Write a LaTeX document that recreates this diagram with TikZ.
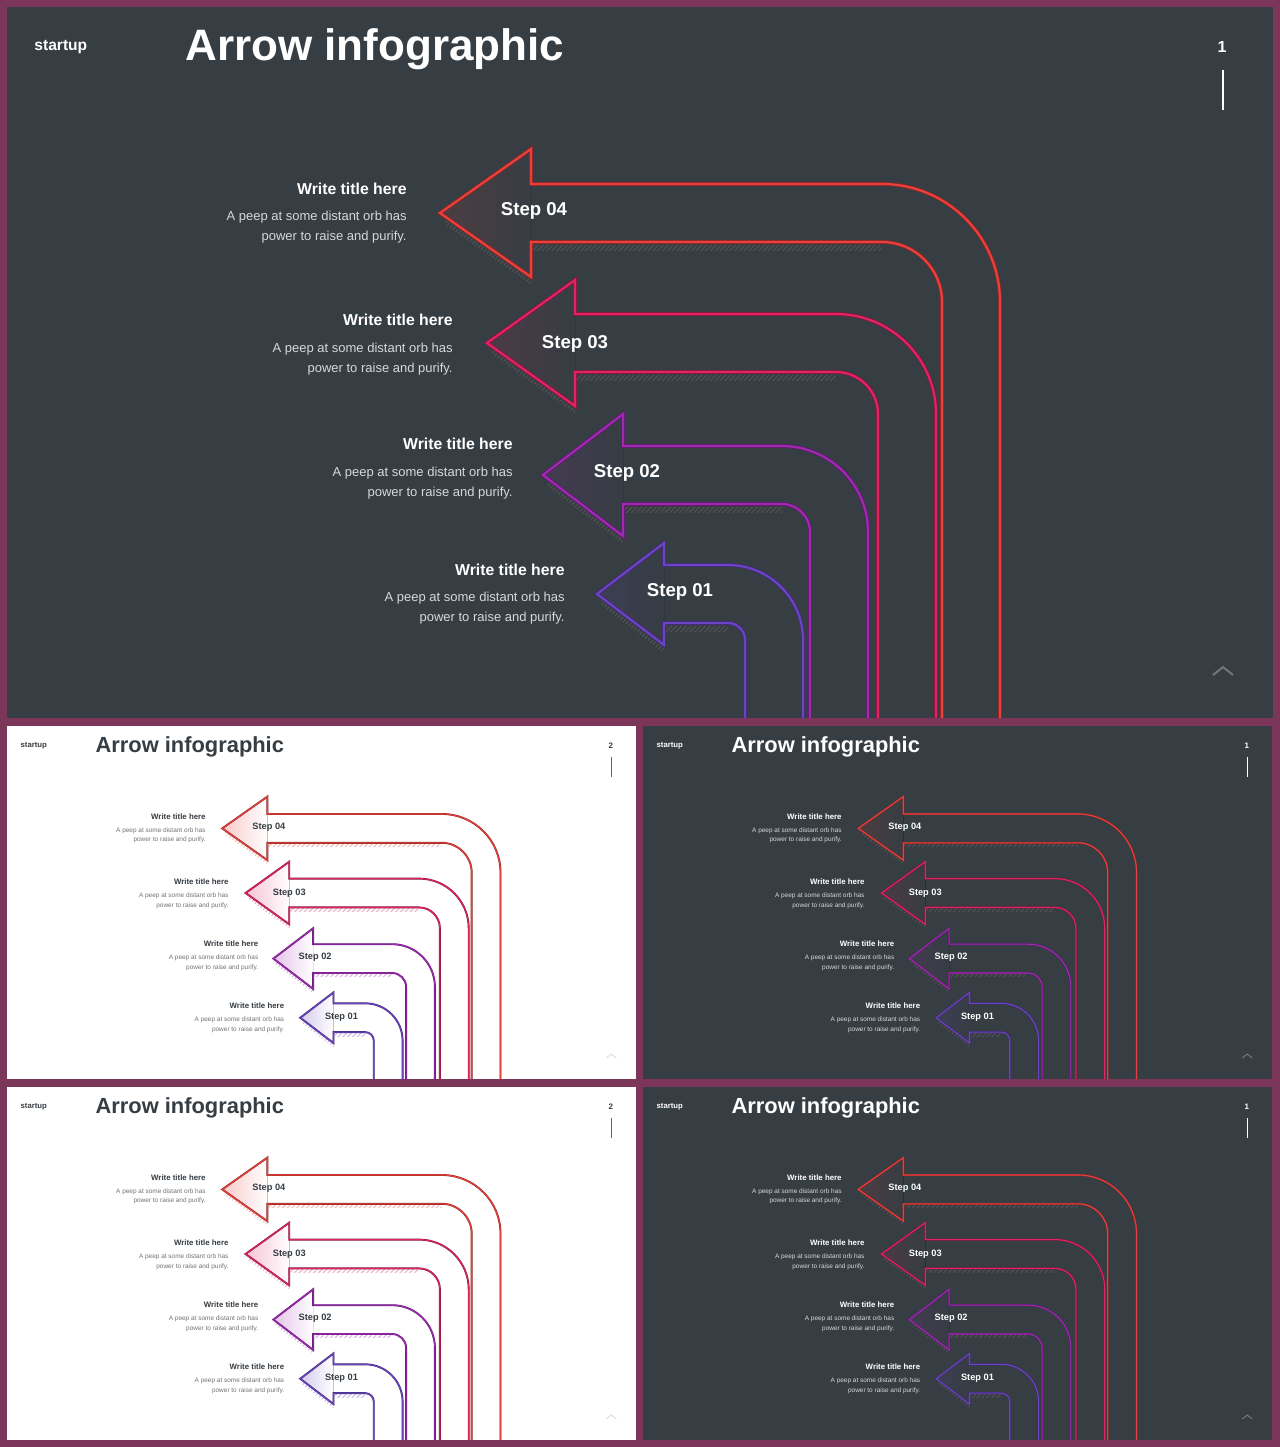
\documentclass[tikz,border=0pt]{standalone}
\usepackage{fontspec}
\setmainfont{Liberation Sans}
\usetikzlibrary{patterns.meta}
\definecolor{framecol}{HTML}{7B365A}
\definecolor{darkbg}{HTML}{363D43}
\definecolor{cfour}{HTML}{E8403C}
\definecolor{cthree}{HTML}{DE2462}
\definecolor{ctwo}{HTML}{9E2AB2}
\definecolor{cone}{HTML}{6A44C2}
\newif\ifdarkslide
\newcommand{\darktheme}{\darkslidetrue\colorlet{sbg}{darkbg}\colorlet{stitle}{white}\colorlet{sbody}{white!80!darkbg}\colorlet{sline}{white}\colorlet{schev}{white!30!darkbg}\def\tintamt{13}\def\pagenum{1}}
\newcommand{\lighttheme}{\darkslidefalse\colorlet{sbg}{white}\colorlet{stitle}{darkbg}\colorlet{sbody}{black!55}\colorlet{sline}{black!60}\colorlet{schev}{black!12}\def\tintamt{28}\def\pagenum{2}}
\tikzset{
  wtitle/.style={inner sep=0pt, font=\bfseries\fontsize{7.9}{9}\selectfont, text=stitle},
  wbody/.style={inner sep=0pt, align=right, font=\fontsize{6.5}{10}\selectfont, text=sbody},
  wstep/.style={inner sep=0pt, font=\bfseries\fontsize{9.3}{11}\selectfont, text=stitle},
  hatchband/.style={pattern={Lines[angle=45,distance=1.7pt,line width=0.55pt]}, pattern color=hcol}
}
% #1 color, #2 tx, #3 bx, #4 half head height, #5 cx, #6 cy, #7 R, #8 r
\newcommand{\steparrow}[8]{%
  \pgfmathsetmacro\aUY{#6-#7}%
  \pgfmathsetmacro\aLY{#6-#8}%
  \pgfmathsetmacro\aTY{#6-(#7+#8)/2}%
  \pgfmathsetmacro\aHT{\aTY-#4}%
  \pgfmathsetmacro\aHB{\aTY+#4}%
  \pgfmathsetmacro\aXO{#5+#7}%
  \pgfmathsetmacro\aXI{#5+#8}%
  \pgfmathsetmacro\aKO{#7*0.5523}%
  \pgfmathsetmacro\aKI{#8*0.5523}%
  \pgfmathsetmacro\aAX{#2+0.06*(#3-#2)}%
  \pgfmathsetmacro\aAY{\aTY+0.06*#4}%
  \ifdarkslide\colorlet{hcol}{black!68}\else\colorlet{hcol}{#1!35!white}\fi
  \fill[left color=#1!\tintamt!sbg, right color=sbg] (#2,\aTY) -- (#3,\aHT) -- (#3,\aHB) -- cycle;
  \fill[hatchband] ({#3+2},{\aLY+3}) -- (#5,{\aLY+3}) -- (#5,{\aLY+8}) -- ({#3+2},{\aLY+8}) -- cycle;
  \fill[hatchband] (\aAX,{\aAY+3}) -- (#3,{\aHB+3}) -- (#3,{\aHB+8}) -- (\aAX,{\aAY+8}) -- cycle;
  \draw[preaction={draw=#1!60!black, line width=\lwo pt}, draw=#1, line width=\lwi pt, line join=miter]
    (\aXO,711) -- (\aXO,#6) .. controls (\aXO,{#6-\aKO}) and ({#5+\aKO},\aUY) .. (#5,\aUY)
    -- (#3,\aUY) -- (#3,\aHT) -- (#2,\aTY) -- (#3,\aHB) -- (#3,\aLY) -- (#5,\aLY)
    .. controls ({#5+\aKI},\aLY) and (\aXI,{#6-\aKI}) .. (\aXI,#6) -- (\aXI,711);
}
% #1 prefix, #2 id, #3 right x, #4 title y, #5 body y, #6 label, #7 label x, #8 label y
\newcommand{\steptexts}[8]{%
  \node[wtitle, anchor=east] (#1-t#2) at (#3,#4) {Write title here};
  \node[wbody, anchor=east] (#1-b#2) at (#3,#5) {A peep at some distant orb has\\power to raise and purify.};
  \node[wstep] (#1-s#2) at (#7,#8) {#6};
}
% #1 prefix, #2 x, #3 y, #4 scale
\newcommand{\myslide}[4]{%
  \begin{scope}[shift={(#2,#3)}, scale=#4, transform shape]
    \pgfmathsetmacro\lwo{1.9*#4}%
    \pgfmathsetmacro\lwi{1.1*#4}%
    \pgfmathsetmacro\lwp{1.0*#4}%
    \fill[sbg] (0,0) rectangle (1266,711);
    \begin{scope}
      \clip (0,0) rectangle (1266,711);
      \steparrow{cfour}{433}{524}{64}{875}{295}{118}{60}
      \steparrow{cthree}{480}{568}{63}{829}{407}{100}{42}
      \steparrow{ctwo}{536}{616}{61}{775}{525}{86}{28}
      \steparrow{cone}{590}{657}{51}{721}{633}{75}{17}
    \end{scope}
    \node[anchor=west, inner sep=0pt, font=\bfseries\fontsize{7.8}{9}\selectfont, text=stitle] (#1-brand) at (27,40) {startup};
    \node[anchor=west, inner sep=0pt, font=\bfseries\fontsize{22}{26}\selectfont, text=stitle] (#1-title) at (178,42) {Arrow infographic};
    \node[inner sep=0pt, font=\bfseries\fontsize{8}{9}\selectfont, text=stitle] (#1-page) at (1215,40) {\pagenum};
    \coordinate (#1-pa) at (1216,63);
    \coordinate (#1-pb) at (1216,103);
    \draw[sline, line width=\lwp pt] (#1-pa) -- (#1-pb);
    \coordinate (#1-c1) at (1206,668);
    \coordinate (#1-c2) at (1216,660);
    \coordinate (#1-c3) at (1226,668);
    \draw[schev, line width=\lwp pt] (#1-c1) -- (#1-c2) -- (#1-c3);
    \steptexts{#1}{4}{400}{182}{220}{Step 04}{527}{204}
    \steptexts{#1}{3}{446}{313}{352}{Step 03}{568}{337}
    \steptexts{#1}{2}{506}{437}{476}{Step 02}{620}{466}
    \steptexts{#1}{1}{558}{563}{601}{Step 01}{673}{585}
  \end{scope}
}
\begin{document}
\begin{tikzpicture}[x=0.5pt, y=-0.5pt]
  \useasboundingbox (0,0) rectangle (1280,1447);
  \fill[framecol] (0,0) rectangle (1280,1447);
  \darktheme
  \myslide{big}{7}{7}{1}
  \lighttheme
  \myslide{sa}{7}{726}{0.497}
  \darktheme
  \myslide{sb}{643}{726}{0.497}
  \lighttheme
  \myslide{sc}{7}{1087}{0.497}
  \darktheme
  \myslide{sd}{643}{1087}{0.497}
\end{tikzpicture}
\end{document}
